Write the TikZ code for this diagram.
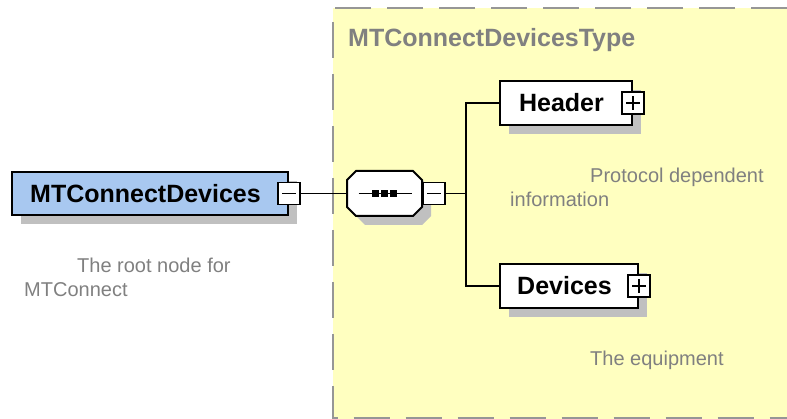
\documentclass[tikz,border=0pt]{standalone}
\usepackage{fontspec}
\setmainfont{Liberation Sans}
\usetikzlibrary{shadows}

\definecolor{rootblue}{RGB}{168,200,240}
\definecolor{typeyellow}{RGB}{255,255,192}
\definecolor{docgray}{RGB}{128,128,128}
\definecolor{shadegray}{RGB}{192,192,192}
\definecolor{framegray}{RGB}{150,150,150}

\tikzset{
  shade box/.style={drop shadow={shadow xshift=9pt, shadow yshift=-9pt, fill=shadegray, opacity=1}},
  elem/.style={draw, line width=2pt, fill=white, inner sep=0pt, minimum height=44pt,
    font=\fontsize{25}{29}\selectfont\bfseries, shade box,
    execute at end node={\hspace*{9pt}}},
  pmbox/.style={draw, fill=white, line width=1.5pt, minimum size=22pt, inner sep=0pt},
  minusbox/.style={pmbox, path picture={
    \draw[line width=1.5pt] ([xshift=4pt]path picture bounding box.west)
      -- ([xshift=-4pt]path picture bounding box.east);}},
  plusbox/.style={pmbox, path picture={
    \draw[line width=1.5pt] ([xshift=4pt]path picture bounding box.west)
      -- ([xshift=-4pt]path picture bounding box.east)
      ([yshift=4pt]path picture bounding box.south)
      -- ([yshift=-4pt]path picture bounding box.north);}},
  wire/.style={line width=1.5pt},
  frame/.style={framegray, line width=2pt, dash pattern=on 36pt off 16pt},
  doc/.style={text=docgray, inner sep=0pt, font=\fontsize{20}{24}\selectfont},
  typename/.style={text=docgray, inner sep=0pt, font=\fontsize{25}{29}\selectfont\bfseries},
}

\begin{document}
\begin{tikzpicture}[x=1pt, y=-1pt]
  \useasboundingbox (0,0) rectangle (787,419);

  % complex type area
  \fill[typeyellow] (333,8) rectangle (787,419);
  \draw[frame] (787,8) -| (333,417.5) -- (787,417.5);
  \node[typename, anchor=base west] (typelbl) at (348,47) {MTConnectDevicesType};

  % root element
  \node[elem, fill=rootblue, minimum width=276pt, minimum height=43pt] (root) at (150,193.5) {MTConnectDevices};
  \node[minusbox] (rootm) at (root.east) {};

  % sequence compositor (octagon drawn by hand)
  \node[minimum width=75pt, minimum height=45pt, inner sep=0pt] (seq) at (384.5,193.5) {};
  \fill[shadegray, shift={(seq.center)}, xshift=9pt, yshift=-9pt]
    (-37.5,-13.5) -- (-28.5,-22.5) -- (28.5,-22.5) -- (37.5,-13.5)
    -- (37.5,13.5) -- (28.5,22.5) -- (-28.5,22.5) -- (-37.5,13.5) -- cycle;
  \draw[line width=2pt, fill=white, shift={(seq.center)}]
    (-37.5,-13.5) -- (-28.5,-22.5) -- (28.5,-22.5) -- (37.5,-13.5)
    -- (37.5,13.5) -- (28.5,22.5) -- (-28.5,22.5) -- (-37.5,13.5) -- cycle;
  \node[minusbox, anchor=west] (seqm) at (seq.east) {};
  \draw[wire] ([xshift=-26pt]seq.center) -- ([xshift=27pt]seq.center);
  \foreach \dx in {-9,0,9}
    \fill ([xshift=\dx pt]seq.center) +(-3.5,-3.5) rectangle +(3.5,3.5);

  % child elements
  \node[elem, minimum width=132pt] (hdr) at (566,103) {Header};
  \node[plusbox] (hdrp) at (hdr.east) {};
  \node[elem, minimum width=138pt] (dev) at (569,286) {Devices};
  \node[plusbox] (devp) at (dev.east) {};

  \coordinate (bus) at (466,193.5);
  \draw[wire] (rootm) -- (seq);
  \draw[wire] (seqm) -- (bus);
  \draw[wire] (hdr.west) -| (bus) |- (dev.west);

  % annotations
  \node[doc, anchor=base west] (rootdoc) at (77,273) {The root node for};
  \node[doc, anchor=base west] (rootdoc2) at (24,297) {MTConnect};
  \node[doc, anchor=base west] (hdrdoc) at (590,183) {Protocol dependent};
  \node[doc, anchor=base west] (hdrdoc2) at (510,207) {information};
  \node[doc, anchor=base west] (devdoc) at (590,366) {The equipment};
\end{tikzpicture}
\end{document}
